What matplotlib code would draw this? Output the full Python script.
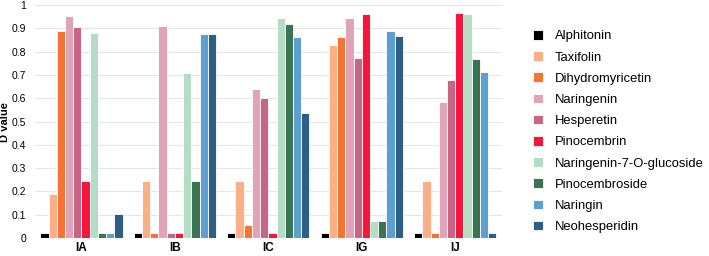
import numpy as np
import matplotlib.pyplot as plt

plt.rcParams['font.family'] = ['Liberation Sans', 'DejaVu Sans']

groups = ["IA", "IB", "IC", "IG", "IJ"]
compounds = ["Alphitonin", "Taxifolin", "Dihydromyricetin", "Naringenin", "Hesperetin",
             "Pinocembrin", "Naringenin-7-O-glucoside", "Pinocembroside", "Naringin",
             "Neohesperidin"]
colors = ["#000000", "#FCAE86", "#F57333", "#E0A3B8", "#C86486",
          "#F5163A", "#B5DDC5", "#3A7452", "#5DA0D0", "#2D5F85"]

# rows = groups, columns = compounds
values = [
    [0.02, 0.19, 0.89, 0.955, 0.905, 0.245, 0.88, 0.02, 0.02, 0.105],
    [0.02, 0.245, 0.02, 0.91, 0.02, 0.02, 0.71, 0.245, 0.875, 0.878],
    [0.02, 0.245, 0.055, 0.64, 0.60, 0.02, 0.945, 0.92, 0.865, 0.535],
    [0.02, 0.83, 0.865, 0.945, 0.775, 0.963, 0.075, 0.075, 0.888, 0.868],
    [0.02, 0.245, 0.02, 0.585, 0.68, 0.965, 0.96, 0.77, 0.712, 0.02],
]
values = np.array(values)

fig = plt.figure(figsize=(7.09, 2.56), dpi=100)
ax = fig.add_axes([0.049, 0.07, 0.659, 0.91])

x = np.arange(len(groups))
w = 0.088
for i, name in enumerate(compounds):
    ax.bar(x + (i - 4.5) * w, values[:, i], width=w, color=colors[i],
           edgecolor="white", linewidth=0.6, label=name, zorder=3)

ax.set_xlim(-0.5, len(groups) - 0.5)
ax.set_ylim(0, 1)
ax.set_yticks(np.arange(0, 1.01, 0.1))
ax.set_yticklabels(["0", "0.1", "0.2", "0.3", "0.4", "0.5", "0.6", "0.7", "0.8", "0.9", "1"])
ax.set_xticks(x)
ax.set_xticklabels(groups, fontweight="bold", fontsize=8.5)
ax.tick_params(axis="y", labelsize=7.5, length=0, pad=6)
ax.tick_params(axis="x", length=0, pad=3)
ax.grid(axis="y", color="#e6e6e6", linewidth=0.8, zorder=0)
for s in ax.spines.values():
    s.set_visible(False)
ax.set_ylabel("D value", fontweight="bold", fontsize=8)
ax.yaxis.set_label_coords(-0.053, 0.5)

ax.legend(loc="center left", bbox_to_anchor=(1.042, 0.457), frameon=False,
          fontsize=9.4, handlelength=0.75, handleheight=0.75, labelspacing=0.68,
          handletextpad=0.9)

plt.savefig("out.png", dpi=100)
plt.close()
